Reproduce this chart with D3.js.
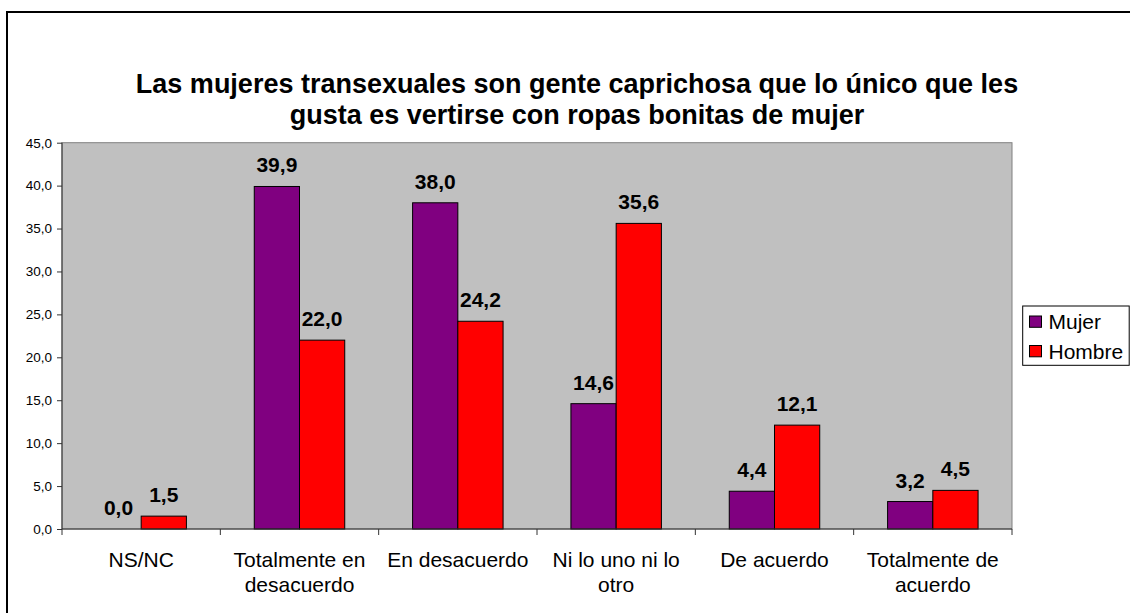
<!DOCTYPE html>
<html>
<head>
<meta charset="utf-8">
<script src="https://cdn.jsdelivr.net/npm/d3@7"></script>
<style>
  html, body { margin: 0; padding: 0; background: #fff; }
  svg { display: block; font-family: "Liberation Sans", Arial, sans-serif; }
</style>
</head>
<body>
<svg id="chart" width="1130" height="613"></svg>
<script>
// Survey answers, percentage by sex
const categories = ["NS/NC", "Totalmente en desacuerdo", "En desacuerdo", "Ni lo uno ni lo otro", "De acuerdo", "Totalmente de acuerdo"];
const categoryLines = [["NS/NC"], ["Totalmente en", "desacuerdo"], ["En desacuerdo"], ["Ni lo uno ni lo", "otro"], ["De acuerdo"], ["Totalmente de", "acuerdo"]];
const series = ["Mujer", "Hombre"];
const mujer = [0.0, 39.9, 38.0, 14.6, 4.4, 3.2];
const hombre = [1.5, 22.0, 24.2, 35.6, 12.1, 4.5];
const yTicks = [0, 5, 10, 15, 20, 25, 30, 35, 40, 45];
const colors = { Mujer: "#800080", Hombre: "#FF0000" };
const titleLines = ["Las mujeres transexuales son gente caprichosa que lo único que les", "gusta es vertirse con ropas bonitas de mujer"];

const values = { Mujer: mujer, Hombre: hombre };
const fmt = v => v.toFixed(1).replace(".", ",");

const svg = d3.select("#chart");
const plot = { left: 62, right: 1012, top: 142.7, bottom: 529 };

// Chart frame
svg.append("rect")
  .attr("x", 7).attr("y", 12).attr("width", 1140).attr("height", 700)
  .attr("fill", "#fff").attr("stroke", "#000").attr("stroke-width", 2);

// Title
svg.append("g").selectAll("text").data(titleLines).join("text")
  .attr("x", 577).attr("y", (d, i) => 93 + i * 31)
  .attr("text-anchor", "middle")
  .attr("font-size", 27).attr("font-weight", "bold")
  .text(d => d);

const x0 = d3.scaleBand().domain(categories).range([plot.left, plot.right]).padding(0);
const x1 = d3.scaleBand().domain(series).range([0, x0.bandwidth()]).paddingInner(0).paddingOuter(0.75);
const y = d3.scaleLinear().domain([0, 45]).range([plot.bottom, plot.top]);

// Plot area
svg.append("rect")
  .attr("x", plot.left).attr("y", plot.top)
  .attr("width", plot.right - plot.left).attr("height", plot.bottom - plot.top)
  .attr("fill", "#C0C0C0").attr("stroke", "#808080").attr("stroke-width", 1);

// Bars
const groups = svg.append("g").selectAll("g").data(categories).join("g")
  .attr("transform", d => `translate(${x0(d)},0)`);

groups.selectAll("rect")
  .data((c, i) => series.map(s => ({ s, v: values[s][i] })))
  .join("rect")
  .attr("x", d => x1(d.s))
  .attr("y", d => y(d.v))
  .attr("width", x1.bandwidth())
  .attr("height", d => y(0) - y(d.v))
  .attr("fill", d => colors[d.s])
  .attr("stroke", "#000").attr("stroke-width", 1);

// Value labels
groups.selectAll("text.val")
  .data((c, i) => series.map(s => ({ s, v: values[s][i] })))
  .join("text").attr("class", "val")
  .attr("x", d => x1(d.s) + x1.bandwidth() / 2)
  .attr("y", d => y(d.v) - 14)
  .attr("text-anchor", "middle")
  .attr("font-size", 21).attr("font-weight", "bold")
  .text(d => fmt(d.v));

// Y axis
const yAxis = d3.axisLeft(y).tickValues(yTicks).tickSize(5).tickPadding(5).tickFormat(fmt);
const gy = svg.append("g").attr("transform", `translate(${plot.left},0)`).call(yAxis);
gy.select(".domain").attr("stroke", "#333").attr("d", `M0,${plot.top}V${plot.bottom}`);
gy.selectAll(".tick line").attr("stroke", "#333");
gy.selectAll(".tick text").attr("font-size", 13.5).attr("font-family", "Liberation Sans, Arial, sans-serif").attr("fill", "#000");

// X axis: ticks at category boundaries
const bounds = categories.map(c => x0(c)).concat([plot.right]);
svg.append("line")
  .attr("x1", plot.left).attr("x2", plot.right)
  .attr("y1", plot.bottom).attr("y2", plot.bottom)
  .attr("stroke", "#333");
svg.append("g").selectAll("line").data(bounds).join("line")
  .attr("x1", d => d).attr("x2", d => d)
  .attr("y1", plot.bottom).attr("y2", plot.bottom + 6)
  .attr("stroke", "#333");

const xl = svg.append("g").selectAll("text").data(categories).join("text")
  .attr("x", d => x0(d) + x0.bandwidth() / 2)
  .attr("y", 566.7)
  .attr("text-anchor", "middle")
  .attr("font-size", 21);
xl.selectAll("tspan").data((d, i) => categoryLines[i]).join("tspan")
  .attr("x", function () { return this.parentNode.getAttribute("x"); })
  .attr("dy", (d, i) => i === 0 ? 0 : 25)
  .text(d => d);

// Legend
const legend = svg.append("g");
legend.append("rect")
  .attr("x", 1022.7).attr("y", 306).attr("width", 106.5).attr("height", 59.3)
  .attr("fill", "#fff").attr("stroke", "#000").attr("stroke-width", 1);
const items = legend.selectAll("g").data(series).join("g")
  .attr("transform", (d, i) => `translate(0,${i * 29.5})`);
items.append("rect")
  .attr("x", 1029.5).attr("y", 316).attr("width", 12).attr("height", 11.3)
  .attr("fill", d => colors[d]).attr("stroke", "#000").attr("stroke-width", 1);
items.append("text")
  .attr("x", 1048.5).attr("y", 329.2)
  .attr("font-size", 21)
  .text(d => d);
</script>
</body>
</html>
